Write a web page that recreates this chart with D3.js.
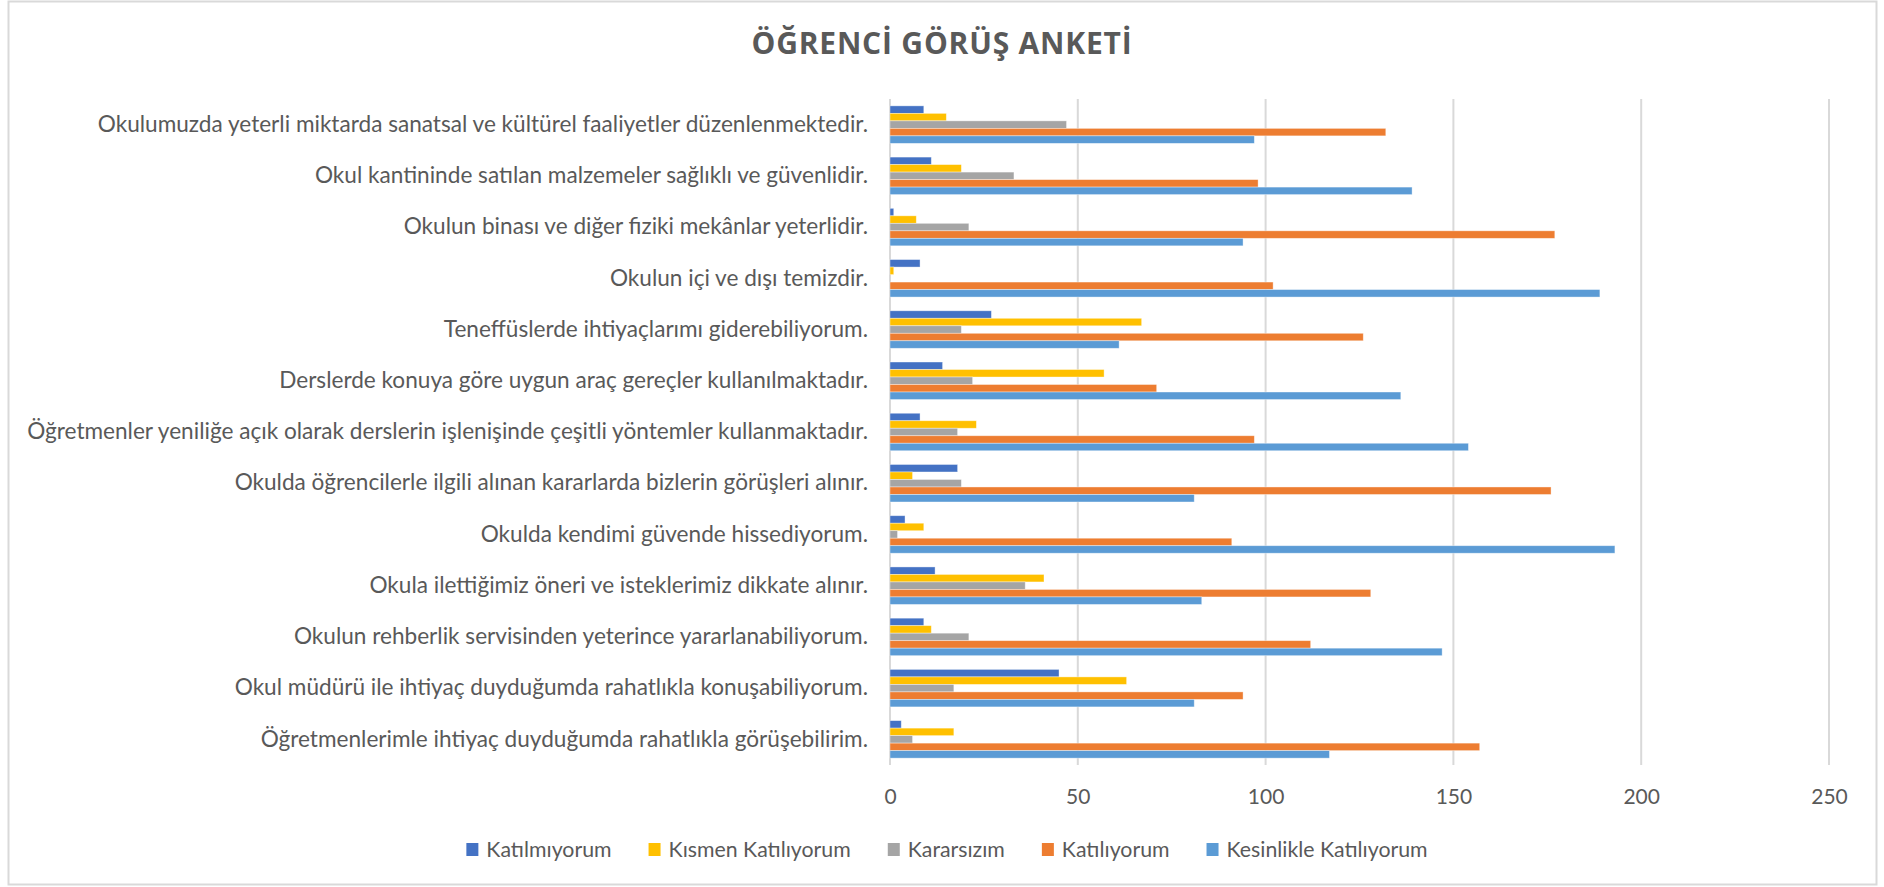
<!DOCTYPE html>
<html>
<head>
<meta charset="utf-8">
<script src="https://cdn.jsdelivr.net/npm/d3@7"></script>
<style>
  body { margin: 0; background: #fff; }
  text { font-family: Lato, "Open Sans", sans-serif; fill: #595959; }
</style>
</head>
<body>
<svg id="chart"></svg>
<script>
var width = 1884, height = 887;

var questions = [
	"Okulumuzda yeterli miktarda sanatsal ve kültürel faaliyetler düzenlenmektedir.",
	"Okul kantininde satılan malzemeler sağlıklı ve güvenlidir.",
	"Okulun binası ve diğer fiziki mekânlar yeterlidir.",
	"Okulun içi ve dışı temizdir.",
	"Teneffüslerde ihtiyaçlarımı giderebiliyorum.",
	"Derslerde konuya göre uygun araç gereçler kullanılmaktadır.",
	"Öğretmenler yeniliğe açık olarak derslerin işlenişinde çeşitli yöntemler kullanmaktadır.",
	"Okulda öğrencilerle ilgili alınan kararlarda bizlerin görüşleri alınır.",
	"Okulda kendimi güvende hissediyorum.",
	"Okula ilettiğimiz öneri ve isteklerimiz dikkate alınır.",
	"Okulun rehberlik servisinden yeterince yararlanabiliyorum.",
	"Okul müdürü ile ihtiyaç duyduğumda rahatlıkla konuşabiliyorum.",
	"Öğretmenlerimle ihtiyaç duyduğumda rahatlıkla görüşebilirim."
];

var seriesNames = ["Katılmıyorum", "Kısmen Katılıyorum", "Kararsızım", "Katılıyorum", "Kesinlikle Katılıyorum"];
var seriesColors = ["#4472C4", "#FFC000", "#A5A5A5", "#ED7D31", "#5B9BD5"];

var katilmiyorum = [9, 11, 1, 8, 27, 14, 8, 18, 4, 12, 9, 45, 3];
var kismen       = [15, 19, 7, 1, 67, 57, 23, 6, 9, 41, 11, 63, 17];
var kararsizim   = [47, 33, 21, 0, 19, 22, 18, 19, 2, 36, 21, 17, 6];
var katiliyorum  = [132, 98, 177, 102, 126, 71, 97, 176, 91, 128, 112, 94, 157];
var kesinlikle   = [97, 139, 94, 189, 61, 136, 154, 81, 193, 83, 147, 81, 117];

var xTicks = [0, 50, 100, 150, 200, 250];

var seriesValues = [katilmiyorum, kismen, kararsizim, katiliyorum, kesinlikle];

var rows = questions.map(function(q, i) {
	return {
		q: q,
		vals: seriesValues.map(function(s, j) { return {name: seriesNames[j], color: seriesColors[j], v: s[i]}; })
	};
});

var plot = {left: 890, right: 1829, top: 99, bottom: 765};

var svg = d3.select("#chart")
	.attr("width", width)
	.attr("height", height);

// outer border like the Excel chart area
svg.append("rect")
	.attr("x", 8.5)
	.attr("y", 1.5)
	.attr("width", 1868)
	.attr("height", 883)
	.attr("fill", "white")
	.attr("stroke", "#D9D9D9")
	.attr("stroke-width", 2);

var x = d3.scaleLinear().domain([0, 250]).range([plot.left, plot.right]);

var y = d3.scaleBand()
	.domain(questions)
	.range([plot.top, plot.bottom])
	.paddingInner(0.268)
	.paddingOuter(0.134);

var ySub = d3.scaleBand()
	.domain(seriesNames)
	.range([0, y.bandwidth()]);

// gridlines
svg.append("g")
	.selectAll("line")
	.data(xTicks)
	.enter().append("line")
	.attr("x1", function(d) { return x(d); })
	.attr("x2", function(d) { return x(d); })
	.attr("y1", plot.top)
	.attr("y2", plot.bottom)
	.attr("stroke", "#D9D9D9")
	.attr("stroke-width", 2);

// bars
var groups = svg.append("g")
	.selectAll("g")
	.data(rows)
	.enter().append("g")
	.attr("transform", function(d) { return "translate(0," + y(d.q) + ")"; });

groups.selectAll("rect")
	.data(function(d) { return d.vals; })
	.enter().append("rect")
	.attr("x", x(0))
	.attr("y", function(d) { return ySub(d.name); })
	.attr("width", function(d) { return x(d.v) - x(0); })
	.attr("height", ySub.bandwidth())
	.attr("fill", function(d) { return d.color; })
	.attr("stroke", "white")
	.attr("stroke-opacity", 0.5)
	.attr("stroke-width", 0.75);

// category axis
var yAxis = svg.append("g")
	.attr("transform", "translate(" + plot.left + ",0)")
	.call(d3.axisLeft(y).tickSize(0).tickPadding(22));
yAxis.select(".domain").remove();
yAxis.selectAll("text")
	.attr("font-size", 22.6)
	.attr("fill", "#595959")
	.style("font-family", "Lato, 'Open Sans', sans-serif");

// value axis
var xAxis = svg.append("g")
	.attr("transform", "translate(0," + plot.bottom + ")")
	.call(d3.axisBottom(x).tickValues(xTicks).tickSize(0).tickPadding(24));
xAxis.select(".domain").remove();
xAxis.selectAll("text")
	.attr("font-size", 21)
	.attr("fill", "#595959")
	.style("font-family", "Lato, 'Open Sans', sans-serif");

// title
svg.append("text")
	.attr("x", 942)
	.attr("y", 54)
	.attr("text-anchor", "middle")
	.attr("font-size", 30)
	.attr("font-weight", "bold")
	.attr("letter-spacing", 0.8)
	.style("font-family", "'Open Sans', sans-serif")
	.text("ÖĞRENCİ GÖRÜŞ ANKETİ");

// legend
var legend = svg.append("g");
var lx = 0;
seriesNames.forEach(function(name, i) {
	var item = legend.append("g").attr("transform", "translate(" + lx + ",0)");
	item.append("rect")
		.attr("x", 0)
		.attr("y", -7)
		.attr("width", 12)
		.attr("height", 13)
		.attr("fill", seriesColors[i]);
	var t = item.append("text")
		.attr("x", 20)
		.attr("y", 7)
		.attr("font-size", 21.3)
		.text(name);
	lx += 20 + t.node().getComputedTextLength() + 37;
});
lx -= 37;
legend.attr("transform", "translate(" + (947 - lx / 2) + ",850)");
</script>
</body>
</html>
